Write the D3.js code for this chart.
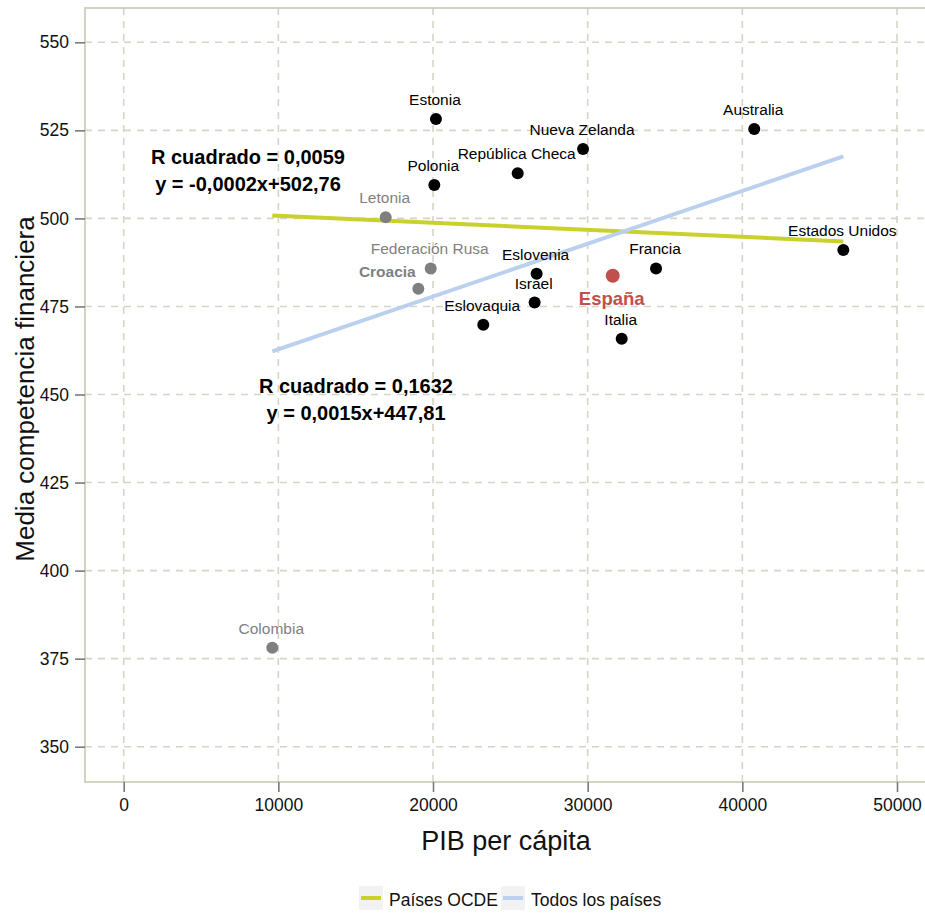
<!DOCTYPE html>
<html>
<head>
<meta charset="utf-8">
<script src="https://cdn.jsdelivr.net/npm/d3@7"></script>
<style>
  html, body { margin: 0; padding: 0; background: #fff; }
  svg { display: block; font-family: "Liberation Sans", Arial, Helvetica, sans-serif; }
</style>
</head>
<body>
<div id="chart"></div>
<script>
// ---------- data ----------
const countries = ["Estonia", "Australia", "Nueva Zelanda", "República Checa", "Polonia", "Letonia",
  "Federación Rusa", "Croacia", "Eslovenia", "Israel", "Eslovaquia", "España", "Francia", "Italia",
  "Estados Unidos", "Colombia"];
const pib = [20190, 40770, 29700, 25475, 20083, 16940, 19850, 19050, 26700, 26570, 23250, 31620, 34420, 32200, 46530, 9608];
const score = [528.2, 525.4, 519.7, 512.8, 509.5, 500.3, 485.8, 480.0, 484.3, 476.1, 469.8, 483.7, 485.8, 465.8, 491.0, 378.1];
const group = ["ocde", "ocde", "ocde", "ocde", "ocde", "other", "other", "other", "ocde", "ocde", "ocde", "spain", "ocde", "ocde", "ocde", "other"];

const xTicks = [0, 10000, 20000, 30000, 40000, 50000];
const yTicks = [350, 375, 400, 425, 450, 475, 500, 525, 550];

const fitNames = ["Países OCDE", "Todos los países"];
const fitSlopes = [-0.0002, 0.0015];
const fitIntercepts = [502.76, 447.81];
const fitR2 = ["0,0059", "0,1632"];
const fitEq = ["y = -0,0002x+502,76", "y = 0,0015x+447,81"];

// ---------- layout ----------
const W = 925, H = 913;
const panel = { left: 85, right: 927, top: 8, bottom: 782 };
const x = d3.scaleLinear().domain([0, 50000]).range([123.7, 897]);
const y = d3.scaleLinear().domain([350, 550]).range([746.7, 42.3]);

const colors = { ocde: "#000000", other: "#7f7f7f", spain: "#c0504d" };
const fitColors = ["#c9d12c", "#bad0ee"];

const svg = d3.select("#chart").append("svg").attr("width", W).attr("height", H);

// grid
const gridColor = "#d6d4c6";
svg.append("g").selectAll("line").data(yTicks).join("line")
  .attr("x1", panel.left).attr("x2", panel.right)
  .attr("y1", d => y(d)).attr("y2", d => y(d))
  .attr("stroke", gridColor).attr("stroke-width", 1.6).attr("stroke-dasharray", "7,6");
svg.append("g").selectAll("line").data(xTicks).join("line")
  .attr("y1", panel.top).attr("y2", panel.bottom)
  .attr("x1", d => x(d)).attr("x2", d => x(d))
  .attr("stroke", gridColor).attr("stroke-width", 1.6).attr("stroke-dasharray", "7,6");

// panel border
svg.append("rect").attr("x", panel.left).attr("y", panel.top)
  .attr("width", panel.right - panel.left).attr("height", panel.bottom - panel.top)
  .attr("fill", "none").attr("stroke", "#c8c8b6").attr("stroke-width", 1.6);

// axes
const xAxis = d3.axisBottom(x).tickValues(xTicks).tickSize(10).tickPadding(7).tickFormat(d3.format("d"));
const gx = svg.append("g").attr("transform", `translate(0,${panel.bottom})`).call(xAxis);
const yAxis = d3.axisLeft(y).tickValues(yTicks).tickSize(10).tickPadding(6).tickFormat(d3.format("d"));
const gy = svg.append("g").attr("transform", `translate(${panel.left},0)`).call(yAxis);
[gx, gy].forEach(g => {
  g.select(".domain").remove();
  g.selectAll(".tick line").attr("stroke", "#7a7a7a").attr("stroke-width", 1.6);
  g.selectAll(".tick text").attr("fill", "#111").style("font-size", "17.5px")
    .style("font-family", '"Liberation Sans", Arial, sans-serif');
});

// regression lines
const xMin = d3.min(pib), xMax = d3.max(pib);
fitSlopes.forEach((s, i) => {
  const b = fitIntercepts[i];
  svg.append("line")
    .attr("x1", x(xMin)).attr("y1", y(s * xMin + b))
    .attr("x2", x(xMax)).attr("y2", y(s * xMax + b))
    .attr("stroke", fitColors[i]).attr("stroke-width", 4);
});

// points
const idx = d3.range(countries.length);
svg.append("g").selectAll("circle").data(idx).join("circle")
  .attr("cx", i => x(pib[i])).attr("cy", i => y(score[i]))
  .attr("r", i => group[i] === "spain" ? 7 : 6)
  .attr("fill", i => colors[group[i]]);

// labels
const labelOffset = { "Croacia": [-31, -12], "España": [-1, 29] };
svg.append("g").selectAll("text").data(idx).join("text")
  .attr("x", i => x(pib[i]) + (labelOffset[countries[i]] ? labelOffset[countries[i]][0] : -1))
  .attr("y", i => y(score[i]) + (labelOffset[countries[i]] ? labelOffset[countries[i]][1] : -14))
  .attr("text-anchor", "middle")
  .attr("fill", i => colors[group[i]])
  .style("font-size", i => countries[i] === "España" ? "18.5px" : "15.5px")
  .style("font-weight", i => (countries[i] === "España" || countries[i] === "Croacia") ? "bold" : "normal")
  .text(i => countries[i]);

// annotations
const annPos = [[248, 164], [356, 393]];
fitR2.forEach((r, i) => {
  const g = svg.append("g");
  g.append("text").attr("x", annPos[i][0]).attr("y", annPos[i][1])
    .attr("text-anchor", "middle").style("font-size", "20px").style("font-weight", "bold")
    .text("R cuadrado = " + r);
  g.append("text").attr("x", annPos[i][0]).attr("y", annPos[i][1] + 27)
    .attr("text-anchor", "middle").style("font-size", "20px").style("font-weight", "bold")
    .text(fitEq[i]);
});

// axis titles
svg.append("text").attr("x", 506).attr("y", 850).attr("text-anchor", "middle")
  .style("font-size", "27px").attr("fill", "#111").text("PIB per cápita");
svg.append("text").attr("transform", "translate(34,389) rotate(-90)").attr("text-anchor", "middle")
  .style("font-size", "26px").attr("fill", "#111").text("Media competencia financiera");

// legend
const leg = svg.append("g");
const legX = [359, 501];
fitNames.forEach((n, i) => {
  leg.append("rect").attr("x", legX[i]).attr("y", 886).attr("width", 24).attr("height", 24).attr("fill", "#f2f2f2");
  leg.append("line").attr("x1", legX[i] + 2).attr("x2", legX[i] + 22).attr("y1", 898).attr("y2", 898)
    .attr("stroke", fitColors[i]).attr("stroke-width", 4);
  leg.append("text").attr("x", legX[i] + 30).attr("y", 906).style("font-size", "17.5px").attr("fill", "#111").text(n);
});
</script>
</body>
</html>
